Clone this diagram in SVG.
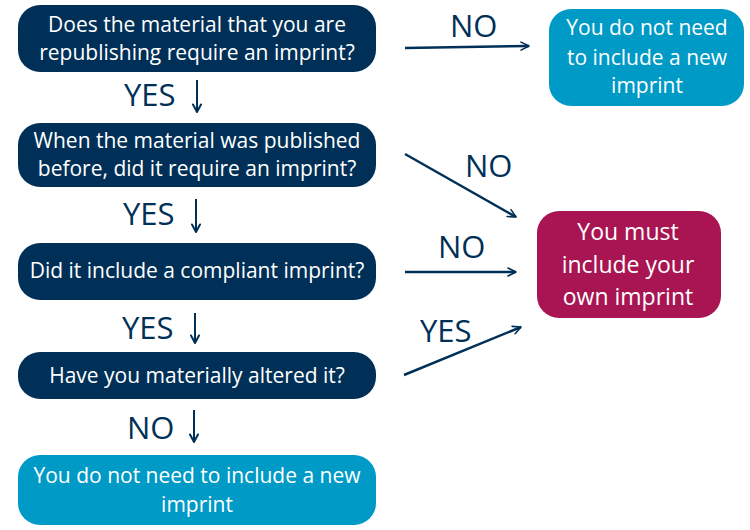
<svg xmlns="http://www.w3.org/2000/svg" width="750" height="530" viewBox="0 0 750 530">
<defs>
<style>
.q{fill:#003057}
.lb{fill:#009AC6}
.mg{fill:#A81552}
.t{font-family:"Open Sans","Liberation Sans",sans-serif;fill:#ffffff;text-anchor:middle}
.bt{font-size:21px}
.lbl{font-family:"Open Sans","Liberation Sans",sans-serif;fill:#003057;font-size:31px}
.c{stroke:#003057;stroke-width:2.5;fill:none}
.d{stroke:#003057;stroke-width:2;fill:none}
</style>
<marker id="ah" viewBox="0 0 10 10" refX="9" refY="5" markerWidth="4" markerHeight="4" orient="auto" markerUnits="strokeWidth">
<path d="M1,1 L9,5 L1,9" fill="none" stroke="#003057" stroke-width="1.6" stroke-linecap="round" stroke-linejoin="round"/>
</marker>
<marker id="ad" viewBox="0 0 10 10" refX="9" refY="5" markerWidth="5" markerHeight="5" orient="auto" markerUnits="strokeWidth">
<path d="M1.5,1 L9,5 L1.5,9" fill="none" stroke="#003057" stroke-width="2" stroke-linecap="round" stroke-linejoin="round"/>
</marker>
</defs>
<rect width="750" height="530" fill="#ffffff"/>
<g id="n1">
<rect class="q" x="18" y="5" width="358" height="67" rx="22"/>
<text class="t bt" x="197" y="32">Does the material that you are</text>
<text class="t bt" x="197" y="60">republishing require an imprint?</text>
</g>
<g id="n2">
<rect class="q" x="18" y="123" width="358" height="64" rx="22"/>
<text class="t bt" x="197" y="148">When the material was published</text>
<text class="t bt" x="197" y="176">before, did it require an imprint?</text>
</g>
<g id="n3">
<rect class="q" x="18" y="243" width="358" height="57" rx="22"/>
<text class="t bt" x="197" y="278">Did it include a compliant imprint?</text>
</g>
<g id="n4">
<rect class="q" x="18" y="352" width="358" height="47" rx="22"/>
<text class="t bt" x="197" y="383">Have you materially altered it?</text>
</g>
<g id="n5">
<rect class="lb" x="18" y="455" width="358" height="70" rx="22"/>
<text class="t bt" x="197" y="483">You do not need to include a new</text>
<text class="t bt" x="197" y="512">imprint</text>
</g>
<g id="n6">
<rect class="lb" x="549" y="9" width="195" height="97" rx="22"/>
<text class="t bt" x="647" y="35">You do not need</text>
<text class="t bt" x="647" y="65">to include a new</text>
<text class="t bt" x="647" y="93">imprint</text>
</g>
<g id="n7">
<rect class="mg" x="537" y="211" width="184" height="107" rx="22"/>
<text class="t" style="font-size:23px" x="628" y="240">You must</text>
<text class="t" style="font-size:23px" x="628" y="273">include your</text>
<text class="t" style="font-size:23px" x="628" y="305">own imprint</text>
</g>
<g id="connectors">
<path class="d" d="M197,80 L197,112" marker-end="url(#ad)"/>
<path class="d" d="M196,199 L196,232" marker-end="url(#ad)"/>
<path class="d" d="M195,313 L195,343" marker-end="url(#ad)"/>
<path class="d" d="M194,410 L194,442" marker-end="url(#ad)"/>
<path class="c" d="M405,48 L529,46" marker-end="url(#ah)"/>
<path class="c" d="M405,154 L516,217" marker-end="url(#ah)"/>
<path class="c" d="M405,272 L516,272" marker-end="url(#ah)"/>
<path class="c" d="M404,375 L521,327" marker-end="url(#ah)"/>
<text class="lbl" x="124" y="106">YES</text>
<text class="lbl" x="123" y="225">YES</text>
<text class="lbl" x="122" y="339">YES</text>
<text class="lbl" x="127" y="439">NO</text>
<text class="lbl" x="450" y="37">NO</text>
<text class="lbl" x="465" y="177">NO</text>
<text class="lbl" x="438" y="258">NO</text>
<text class="lbl" x="420" y="342">YES</text>
</g>
</svg>
